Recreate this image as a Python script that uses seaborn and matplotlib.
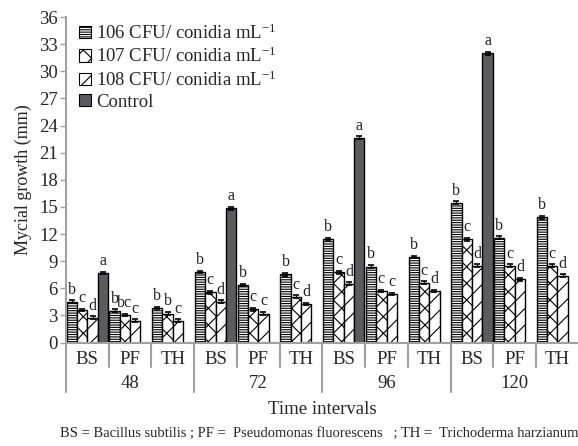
import numpy as np
import pandas as pd
import seaborn as sns
import matplotlib
matplotlib.use("Agg")
import matplotlib.pyplot as plt
from matplotlib.patches import Patch
from matplotlib.container import BarContainer
from matplotlib.transforms import blended_transform_factory

# ---------------- data ----------------
times = ["48", "72", "96", "120"]
agents = ["BS", "PF", "TH"]
series = ["106 CFU/ conidia mL$^{-1}$", "107 CFU/ conidia mL$^{-1}$",
          "108 CFU/ conidia mL$^{-1}$", "Control"]

s106 = [4.5, 3.5, 3.8, 7.8, 6.35, 7.55, 11.45, 8.4, 9.45, 15.45, 11.6, 13.85]
s107 = [3.6, 3.05, 3.2, 5.55, 3.65, 5.05, 7.75, 5.7, 6.6, 11.4, 8.5, 8.5]
s108 = [2.75, 2.4, 2.4, 4.5, 3.2, 4.25, 6.5, 5.35, 5.7, 8.5, 7.0, 7.4]
control = [7.7, np.nan, np.nan, 14.85, np.nan, np.nan,
           22.65, np.nan, np.nan, 32.0, np.nan, np.nan]

l106 = ["b", "b", "b", "b", "b", "b", "b", "b", "b", "b", "b", "b"]
l107 = ["c", "bc", "b", "c", "c", "c", "c", "c", "c", "c", "c", "c"]
l108 = ["d", "c", "c", "d", "c", "d", "d", "c", "d", "d", "d", "d"]
lctl = ["a", "", "", "a", "", "", "a", "", "", "a", "", ""]

err = 0.15

# ---------------- style ----------------
sns.set_style("white")
plt.rcParams["font.family"] = ["Liberation Serif", "DejaVu Serif"]
plt.rcParams["mathtext.fontset"] = "custom"
plt.rcParams["mathtext.rm"] = "Liberation Serif"
plt.rcParams["mathtext.it"] = "Liberation Serif:italic"
plt.rcParams["hatch.linewidth"] = 0.8

cats = [f"{t}-{a}" for t in times for a in agents]
rows = []
for vals, name in zip([s106, s107, s108, control], series):
    for c, v in zip(cats, vals):
        rows.append({"cat": c, "series": name, "value": v})
df = pd.DataFrame(rows)

W, H = 578, 446
fig = plt.figure(figsize=(W / 100, H / 100), dpi=100)
left_px, right_px, top_px, bot_px = 66, 578.8, 17, 342.5
ax = fig.add_axes([left_px / W, 1 - bot_px / H, (right_px - left_px) / W, (bot_px - top_px) / H])

ctl_col = "#5b5c60"
palette = {series[0]: "white", series[1]: "white", series[2]: "white", series[3]: ctl_col}
sns.barplot(data=df.dropna(), x="cat", y="value", hue="series", order=cats,
            hue_order=series, palette=palette, width=0.97, dodge=True,
            edgecolor="black", linewidth=1.0, errorbar=None, legend=False, ax=ax)

hatches = ["-------", "xx", "//", ""]
labels_all = [l106, l107, l108, lctl]
vals_all = [s106, s107, s108, control]
bar_conts = [c for c in ax.containers if isinstance(c, BarContainer)]
for ci, cont in enumerate(bar_conts):
    for bar in cont:
        bar.set_hatch(hatches[ci])
        xc = bar.get_x() + bar.get_width() / 2
        k = int(round(xc))
        v = vals_all[ci][k]
        if np.isnan(v):
            continue
        ax.errorbar(xc, v, yerr=err, color="black", capsize=2.5, elinewidth=1,
                    capthick=1.2, fmt="none", zorder=5)
        ax.text(xc, v + 0.45, labels_all[ci][k], ha="center", va="bottom",
                fontsize=11.5, color="#222222")

ax.set_xlim(-0.5, len(cats) - 0.5)
ax.set_ylim(0, 36)
ax.set_yticks(np.arange(0, 37, 3))
ax.tick_params(axis="y", labelsize=13.5, length=4, width=1, color="#a0a0a0",
               direction="out", left=True, pad=2)
ax.set_xticks([])
ax.set_xlabel("")
ax.set_ylabel("Mycial growth (mm)", fontsize=13, labelpad=5)
for s in ["top", "right"]:
    ax.spines[s].set_visible(False)
ax.spines["left"].set_color("#a0a0a0")
ax.spines["bottom"].set_color("#a0a0a0")
ax.spines["left"].set_linewidth(1.5)
ax.spines["bottom"].set_linewidth(1.5)

# multi-level category axis
tr = blended_transform_factory(ax.transData, fig.transFigure)
def fy(px):
    return 1 - px / H

for k in range(len(cats) + 1):
    xb = k - 0.5
    big = (k % 3 == 0)
    y2 = 392 if big else 367
    ax.plot([xb, xb], [fy(343), fy(y2)], transform=tr, color="#a0a0a0",
            lw=1.5, clip_on=False)
for k, c in enumerate(cats):
    ax.text(k, fy(359), agents[k % 3], transform=tr, ha="center", va="center",
            fontsize=13.5)
for i, t in enumerate(times):
    ax.text(i * 3 + 1, fy(383), t, transform=tr, ha="center", va="center",
            fontsize=13.5)

fig.text((left_px + right_px) / 2 / W, fy(410), "Time intervals", ha="center",
         va="center", fontsize=13.5)
fig.text(60 / W, fy(433),
         "BS = Bacillus subtilis ; PF =  Pseudomonas fluorescens   ; TH =  Trichoderma harzianum",
         ha="left", va="center", fontsize=10.5, family="Liberation Serif")

handles = [Patch(facecolor=palette[s], edgecolor="black", hatch=h, linewidth=0.8)
           for s, h in zip(series, hatches)]
leg = fig.legend(handles, series, loc="upper left",
                 bbox_to_anchor=(68 / W, fy(12)), frameon=False, fontsize=13.5,
                 handlelength=0.65, handleheight=0.65, handletextpad=0.25,
                 labelspacing=0.22, borderpad=0.1)

fig.savefig("out.png", dpi=100)
